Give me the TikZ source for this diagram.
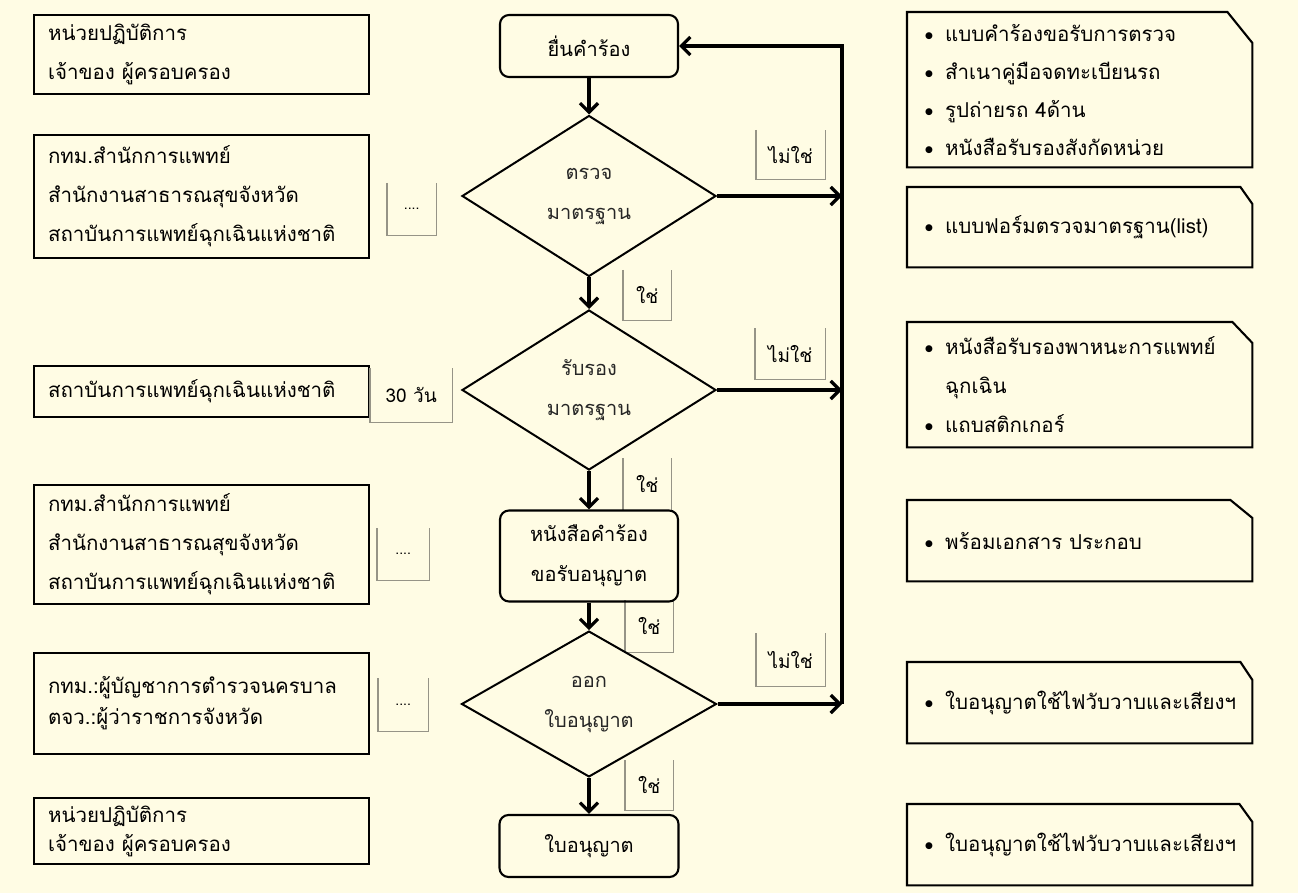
\documentclass[tikz,border=0pt]{standalone}
\usepackage{fontspec}
\setmainfont[Script=Thai]{Loma}
\newfontfamily\dvfont{DejaVu Sans}
\usetikzlibrary{shapes.geometric,arrows.meta,calc}
\definecolor{bg}{RGB}{255,252,228}
\definecolor{tagline}{RGB}{150,148,135}
\newcommand{\bul}{\makebox[20pt][l]{\raisebox{3pt}{\dvfont\fontsize{9}{9}\selectfont ●}}}
\tikzset{
  lbox/.style={draw, line width=2.1pt, anchor=north west, inner xsep=14pt, inner ysep=0pt,
    text width=307pt, align=left, font=\fontsize{20.5}{39}\selectfont},
  rbox/.style={draw=none, anchor=north west, inner xsep=18pt, inner ysep=0pt,
    text width=309pt, align=left, font=\fontsize{20.5}{38}\selectfont},
  rline/.style={line width=2.1pt, line join=miter},
  rbx/.style={draw, line width=2.1pt, rounded corners=9pt, align=center, inner sep=0pt,
    font=\fontsize{20}{40}\selectfont},
  dia/.style={draw, diamond, line width=2pt, align=center, inner sep=0pt,
    font=\fontsize{20}{40}\selectfont, text=black!85},
  tag/.style={draw=none, anchor=north west, inner sep=0pt, align=center,
    font=\fontsize{19}{22}\selectfont},
  dots/.style={font=\fontsize{14}{14}\selectfont},
  tagedge/.style={draw=tagline, line width=1.1pt},
  arr/.style={line width=3.2pt, -{Straight Barb[length=9pt,width=18pt,line width=3.2pt]}}
}
\begin{document}
\begin{tikzpicture}[x=1pt,y=-1pt]
\fill[bg] (0,0) rectangle (1298,893);
\useasboundingbox (0,0) rectangle (1298,893);

% left boxes
\node[lbox, minimum height=79pt] (l1) at (33,14) {หน่วยปฏิบัติการ\\เจ้าของ ผู้ครอบครอง};
\node[lbox, minimum height=123pt] (l2) at (33,134) {กทม.สำนักการแพทย์\\สำนักงานสาธารณสุขจังหวัด\\สถาบันการแพทย์ฉุกเฉินแห่งชาติ};
\node[lbox, minimum height=51pt] (l3) at (33,365) {สถาบันการแพทย์ฉุกเฉินแห่งชาติ};
\node[lbox, minimum height=119pt] (l4) at (33,484) {กทม.สำนักการแพทย์\\สำนักงานสาธารณสุขจังหวัด\\สถาบันการแพทย์ฉุกเฉินแห่งชาติ};
\node[lbox, minimum height=101pt, font=\fontsize{20.5}{31}\selectfont] (l5) at (33,652) {กทม.:ผู้บัญชาการตำรวจนครบาล\\ตจว.:ผู้ว่าราชการจังหวัด};
\node[lbox, minimum height=66pt, font=\fontsize{20.5}{29}\selectfont] (l6) at (33,797) {หน่วยปฏิบัติการ\\เจ้าของ ผู้ครอบครอง};

% tags
\node[tag, dots, minimum width=49pt, minimum height=52pt] (t1) at (387,183) {....};
\node[tag, minimum width=82pt, minimum height=54pt] (t2) at (370,368) {30 วัน};
\node[tag, dots, minimum width=52pt, minimum height=52pt] (t3) at (377,528) {....};
\node[tag, dots, minimum width=50pt, minimum height=53pt] (t4) at (378,678) {....};
\node[tag, minimum width=69pt, minimum height=49pt] (n1) at (756,130) {ไม่ใช่};
\node[tag, minimum width=70pt, minimum height=51pt] (n2) at (755,328) {ไม่ใช่};
\node[tag, minimum width=69pt, minimum height=53pt] (n3) at (756,633) {ไม่ใช่};
\node[tag, minimum width=48pt, minimum height=50pt] (y1) at (623,270) {ใช่};
\node[tag, minimum width=48pt, minimum height=52pt] (y2) at (623,458) {ใช่};
\node[tag, minimum width=48pt, minimum height=52pt] (y3) at (625,600) {ใช่};
\node[tag, minimum width=48pt, minimum height=50pt] (y4) at (625,760) {ใช่};
\foreach \n in {t1,t2,t3,t4,n1,n2,n3,y1,y2,y3,y4}
  \draw[tagedge] (\n.north west) -- (\n.south west) -- (\n.south east) -- (\n.north east);

% centre flow
\node[rbx, minimum width=178pt, minimum height=62pt] (s1) at (589,46) {ยื่นคำร้อง};
\node[dia, minimum width=254pt, minimum height=161pt] (d1) at (589,196) {ตรวจ\\มาตรฐาน};
\node[dia, minimum width=254pt, minimum height=160pt] (d2) at (589,390) {รับรอง\\มาตรฐาน};
\node[rbx, minimum width=178pt, minimum height=91pt] (s2) at (589,556) {หนังสือคำร้อง\\ขอรับอนุญาต};
\node[dia, minimum width=255pt, minimum height=142pt] (d3) at (589,704) {ออก\\ใบอนุญาต};
\node[rbx, minimum width=179pt, minimum height=62pt] (s3) at (589,846) {ใบอนุญาต};

\coordinate (vtop) at (842,46);
\coordinate (vbot) at (842,704);

\draw[arr] (s1.south) -- (d1.north);
\draw[arr] (d1.south) -- (d2.north);
\draw[arr] (d2.south) -- (s2.north);
\draw[arr] (s2.south) -- (d3.north);
\draw[arr] (d3.south) -- (s3.north);
\draw[arr] (d1.east) -- (d1.east -| vtop);
\draw[arr] (d2.east) -- (d2.east -| vtop);
\draw[arr] (d3.east) -- (vbot);
\draw[arr] (vbot) -- (vtop) -- (s1.east);

% right boxes
\node[rbox, minimum height=155pt] (r1) at (907,12) {\bul แบบคำร้องขอรับการตรวจ\\\bul สำเนาคู่มือจดทะเบียนรถ\\\bul รูปถ่ายรถ 4ด้าน\\\bul หนังสือรับรองสังกัดหน่วย};
\node[rbox, minimum height=80pt] (r2) at (907,187) {\bul แบบฟอร์มตรวจมาตรฐาน(list)};
\node[rbox, minimum height=125pt, font=\fontsize{20.5}{39}\selectfont] (r3) at (907,322) {\bul หนังสือรับรองพาหนะการแพทย์\\\hspace*{20pt}ฉุกเฉิน\\\bul แถบสติกเกอร์};
\node[rbox, minimum height=81pt] (r4) at (907,500) {\bul พร้อมเอกสาร ประกอบ};
\node[rbox, minimum height=81pt] (r5) at (907,662) {\bul ใบอนุญาตใช้ไฟวับวาบและเสียงฯ};
\node[rbox, minimum height=81pt] (r6) at (907,804) {\bul ใบอนุญาตใช้ไฟวับวาบและเสียงฯ};
\foreach \n/\cx/\cy in {r1/25/31, r2/12/17, r3/20/21, r4/22/18, r5/12/18, r6/13/18}
  \draw[rline] (\n.north west) -- ($(\n.north east)+(-\cx,0)$) -- ($(\n.north east)+(0,\cy)$)
    -- (\n.south east) -- (\n.south west) -- cycle;
\end{tikzpicture}
\end{document}
